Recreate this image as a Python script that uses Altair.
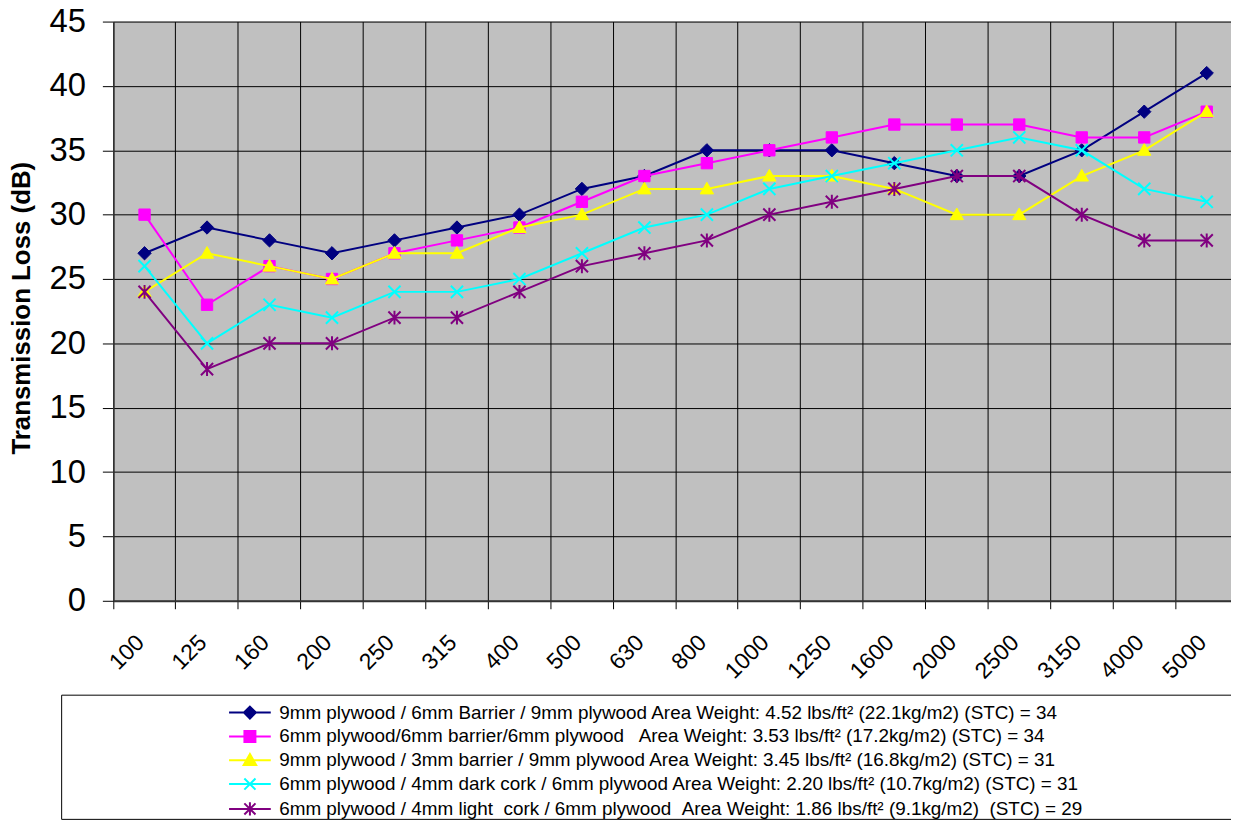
import altair as alt
import pandas as pd

freqs = ["100", "125", "160", "200", "250", "315", "400", "500", "630", "800",
         "1000", "1250", "1600", "2000", "2500", "3150", "4000", "5000"]

series_names = [
    "9mm plywood / 6mm Barrier / 9mm plywood Area Weight: 4.52 lbs/ft\u00b2 (22.1kg/m2) (STC) = 34",
    "\u00a06mm plywood/6mm barrier/6mm plywood \u00a0 Area Weight: 3.53 lbs/ft\u00b2 (17.2kg/m2) (STC) = 34",
    "9mm plywood / 3mm barrier / 9mm plywood Area Weight: 3.45 lbs/ft\u00b2 (16.8kg/m2) (STC) = 31",
    "\u00a06mm plywood / 4mm dark cork / 6mm plywood Area Weight: 2.20 lbs/ft\u00b2 (10.7kg/m2) (STC) = 31",
    "\u00a06mm plywood / 4mm light \u00a0cork / 6mm plywood \u00a0Area Weight: 1.86 lbs/ft\u00b2 (9.1kg/m2) \u00a0(STC) = 29",
]

tl_9mm_6mm_barrier = [27, 29, 28, 27, 28, 29, 30, 32, 33, 35, 35, 35, 34, 33, 33, 35, 38, 41]
tl_6mm_6mm_barrier = [30, 23, 26, 25, 27, 28, 29, 31, 33, 34, 35, 36, 37, 37, 37, 36, 36, 38]
tl_9mm_3mm_barrier = [24, 27, 26, 25, 27, 27, 29, 30, 32, 32, 33, 33, 32, 30, 30, 33, 35, 38]
tl_dark_cork = [26, 20, 23, 22, 24, 24, 25, 27, 29, 30, 32, 33, 34, 35, 36, 35, 32, 31]
tl_light_cork = [24, 18, 20, 20, 22, 22, 24, 26, 27, 28, 30, 31, 32, 33, 33, 30, 28, 28]

all_values = [tl_9mm_6mm_barrier, tl_6mm_6mm_barrier, tl_9mm_3mm_barrier, tl_dark_cork, tl_light_cork]

colors = ["#000080", "#FF00FF", "#FFFF00", "#00FFFF", "#800080"]
marker_paths = [
    "M0,-1L1,0L0,1L-1,0Z",
    "M-1,-1H1V1H-1Z",
    "M0,-1L1,0.75L-1,0.75Z",
    "M-1,-1L1,1M-1,1L1,-1",
    "M-1,-1L1,1M-1,1L1,-1M0,-1.15V1.15",
]
marker_sizes = [180, 130, 180, 150, 150]
marker_filled = [True, True, True, False, False]
legend_paths = [
    "M-3,0H3M0,-0.86L0.86,0L0,0.86L-0.86,0Z",
    "M-3,0H3M-0.79,-0.79H0.79V0.79H-0.79Z",
    "M-3,0H3M0,-0.9L0.9,0.7L-0.9,0.7Z",
    "M-3,0H3M-0.8,-0.8L0.8,0.8M-0.8,0.8L0.8,-0.8",
    "M-3,0H3M-0.8,-0.8L0.8,0.8M-0.8,0.8L0.8,-0.8M0,-0.95V0.95",
]

rows = []
for name, vals in zip(series_names, all_values):
    for f, v in zip(freqs, vals):
        rows.append({"freq": f, "tl": v, "series": name})
df = pd.DataFrame(rows)

FONT = "Liberation Sans"

x_enc = alt.X(
    "freq:N",
    sort=freqs,
    scale=alt.Scale(type="band", domain=freqs, range=[0, 1132], paddingInner=0, paddingOuter=0),
    axis=alt.Axis(
        title=None, bandPosition=0, grid=True, gridColor="#000000", gridWidth=1,
        labelAngle=315, labelAlign="right", labelBaseline="middle", labelPadding=30, labelOffset=-4,
        labelFontSize=23, labelColor="#000000", labelFont=FONT, labelOverlap=False, labelBound=False,
        tickSize=8, tickColor="#000000", domainColor="#333333", domainWidth=2,
    ),
)
y_enc = alt.Y(
    "tl:Q",
    scale=alt.Scale(domain=[0, 45], nice=False, zero=True),
    axis=alt.Axis(
        title="Transmission Loss (dB)", values=list(range(0, 46, 5)), grid=True,
        gridColor="#000000", gridWidth=1, labelFontSize=33, labelFont=FONT,
        labelColor="#000000", labelPadding=17, tickSize=11, tickColor="#000000",
        domainColor="#333333", domainWidth=1.5, titleFont=FONT, titleFontSize=26,
        titleFontWeight="bold", titleColor="#000000", titleAngle=270, titleAlign="center",
        titleBaseline="middle", titleX=-92, titleY=288,
    ),
)

layers = []

frame = alt.Chart(pd.DataFrame({"k": [0]})).mark_rect(
    fill="white", stroke="black", strokeWidth=1
).encode(x=alt.value(-52), x2=alt.value(1200), y=alt.value(678), y2=alt.value(803))
layers.append(frame)

for i, name in enumerate(series_names):
    sub = df[df["series"] == name]
    line = alt.Chart(sub).mark_line(color=colors[i], strokeWidth=2).encode(x=x_enc, y=y_enc)
    if marker_filled[i]:
        pts = alt.Chart(sub).mark_point(
            shape=marker_paths[i], size=marker_sizes[i], filled=True,
            fill=colors[i], stroke=colors[i], strokeWidth=1, opacity=1,
        ).encode(x=x_enc, y=y_enc)
    else:
        pts = alt.Chart(sub).mark_point(
            shape=marker_paths[i], size=marker_sizes[i], filled=False,
            stroke=colors[i], strokeWidth=2, opacity=1,
        ).encode(x=x_enc, y=y_enc)
    layers += [line, pts]

legend = alt.Legend(
    title=None, orient="none", legendX=128, legendY=686, direction="vertical",
    labelFont=FONT, labelFontSize=19, labelColor="#000000", labelLimit=1200,
    symbolSize=196, symbolStrokeWidth=2, symbolOpacity=1, labelOffset=20,
    rowPadding=3, padding=0,
)
legend_layer = alt.Chart(df).mark_point(filled=True, opacity=0).encode(
    x=x_enc, y=y_enc,
    shape=alt.Shape("series:N", scale=alt.Scale(domain=series_names, range=legend_paths), legend=legend),
    fill=alt.Fill("series:N", scale=alt.Scale(domain=series_names, range=colors), legend=legend),
    stroke=alt.Stroke("series:N", scale=alt.Scale(domain=series_names, range=colors), legend=legend),
)
layers.append(legend_layer)

chart = alt.layer(*layers).properties(
    width=1125, height=583,
    autosize=alt.AutoSizeParams(type="none"),
    padding={"left": 106, "top": 11, "right": 0, "bottom": 222},
).configure(
    font=FONT, background="white",
    view=alt.ViewConfig(fill="#C0C0C0", stroke=None),
)

chart.save("out.html", embed_options={"renderer": "svg", "actions": False})
